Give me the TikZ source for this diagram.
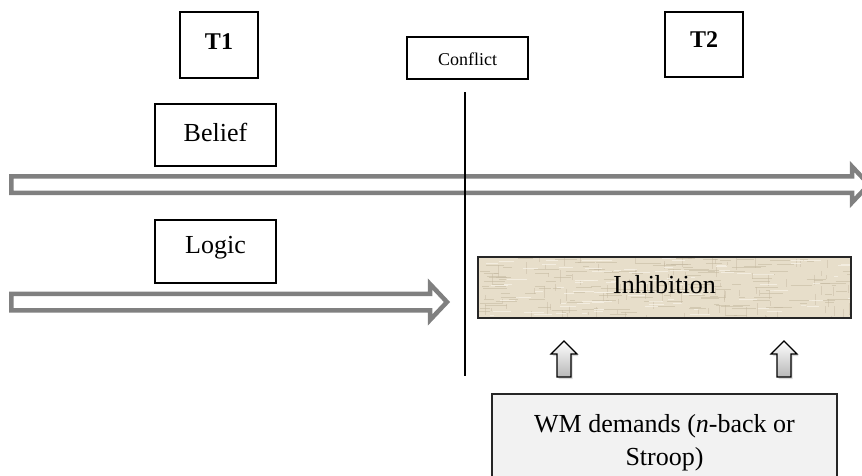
\documentclass[tikz,border=0pt]{standalone}
\usepackage{fontspec}
\setmainfont{Liberation Serif}
\usetikzlibrary{shadows,calc}
\definecolor{arrowgray}{RGB}{128,128,128}
\definecolor{canvasbg}{RGB}{231,222,202}
\definecolor{canvasdark}{RGB}{196,184,160}
\definecolor{canvaslight}{RGB}{246,241,230}
\definecolor{wmfill}{RGB}{242,242,242}

\begin{document}
\begin{tikzpicture}[x=1pt,y=-1pt,
  labelbox/.style={draw=black, line width=1.5pt, fill=white, inner sep=0pt},
  timebox/.style={labelbox, font=\fontsize{24}{28}\selectfont\bfseries},
  termbox/.style={labelbox, font=\fontsize{26}{31}\selectfont},
  blockarrow/.style={draw=arrowgray, line width=4.5pt, fill=white, line join=miter},
  uparrow/.style={draw=black, line width=1.2pt, top color=white, bottom color=black!28,
    drop shadow={shadow xshift=1.5pt, shadow yshift=-2pt, opacity=0.3}},
  linen/.style={path picture={
    \pgfmathsetseed{11}
    \foreach \i in {1,...,170}{
      \pgfmathsetmacro\dx{375*rnd}
      \pgfmathsetmacro\dy{62*rnd}
      \pgfmathsetmacro\len{4+22*rnd}
      \draw[canvasdark, line width=0.7pt, opacity=0.55]
        ($(path picture bounding box.north west)+(\dx,\dy)$) -- ++(\len,0);
    }
    \foreach \i in {1,...,110}{
      \pgfmathsetmacro\dx{375*rnd}
      \pgfmathsetmacro\dy{62*rnd}
      \pgfmathsetmacro\len{3+10*rnd}
      \draw[canvasdark, line width=0.7pt, opacity=0.45]
        ($(path picture bounding box.north west)+(\dx,\dy)$) -- ++(0,\len);
    }
    \foreach \i in {1,...,90}{
      \pgfmathsetmacro\dx{375*rnd}
      \pgfmathsetmacro\dy{62*rnd}
      \pgfmathsetmacro\len{4+18*rnd}
      \draw[canvaslight, line width=0.8pt, opacity=0.8]
        ($(path picture bounding box.north west)+(\dx,\dy)$) -- ++(\len,0);
    }
  }}
]
\useasboundingbox (0,0) rectangle (862,475);
\clip (0,0) rectangle (862,475);

% time line arrows
\draw[blockarrow] (11.25,176.25) -- (852,176.25) -- (852,166.5) -- (869,184.5)
  -- (852,202.5) -- (852,192.75) -- (11.25,192.75) -- cycle;
\draw[blockarrow] (11.25,293.75) -- (430,293.75) -- (430,284) -- (447,302)
  -- (430,320) -- (430,310.25) -- (11.25,310.25) -- cycle;

% time points
\node[timebox, minimum width=78pt, minimum height=66pt, text height=16pt, text depth=8pt]
  (t1) at (219,45) {T1};
\node[timebox, minimum width=78pt, minimum height=65pt, text height=17pt, text depth=12pt]
  (t2) at (704,44.5) {T2};
\node[labelbox, font=\fontsize{18}{22}\selectfont, minimum width=121pt, minimum height=42pt,
  text height=14pt, text depth=0pt] (conflict) at (467.5,58) {Conflict};

% processes
\node[termbox, minimum width=121pt, minimum height=62pt, text height=18pt, text depth=6pt]
  (belief) at (215.5,135) {Belief};
\node[termbox, minimum width=121pt, minimum height=63pt, text height=18pt, text depth=15pt]
  (logic) at (215.5,251.5) {Logic};
\node[termbox, draw=black!85, line width=2pt, fill=canvasbg, linen,
  minimum width=373pt, minimum height=61pt, text height=18pt, text depth=7pt]
  (inh) at (664.5,287.5) {Inhibition};
\node[draw=black!85, line width=1.5pt, fill=wmfill, anchor=north, minimum width=345pt,
  inner xsep=0pt, inner ysep=21pt, align=center, font=\fontsize{26}{33}\selectfont]
  (wm) at (664.5,393) {WM demands (\textit{n}-back or\\Stroop)};

% load arrows from WM demands up to inhibition
\draw[uparrow] (557,377) -- (557,354) -- (551,354) -- (564,341) -- (577,354)
  -- (571,354) -- (571,377) -- cycle;
\draw[uparrow] (777,377) -- (777,354) -- (771,354) -- (784,341) -- (797,354)
  -- (791,354) -- (791,377) -- cycle;

% conflict divider
\coordinate (divtop) at (465,92);
\coordinate (divbot) at (465,376);
\draw[line width=1.8pt] (divtop) -- (divbot);
\end{tikzpicture}
\end{document}
